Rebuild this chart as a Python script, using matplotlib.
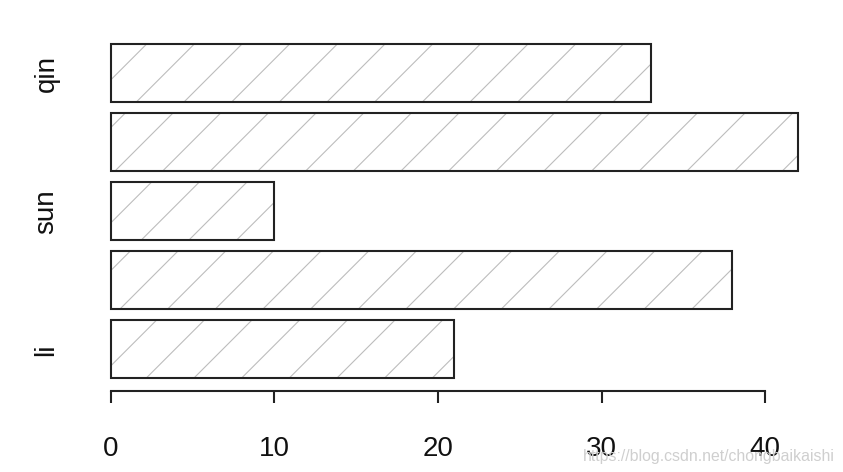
import matplotlib
matplotlib.use("Agg")
import matplotlib.pyplot as plt

# data (bottom to top)
values = [21, 38, 10, 42, 33]
labels = ["li", "", "sun", "", "qin"]
x_ticks = [0, 10, 20, 30, 40]

plt.rcParams["font.family"] = ["Liberation Sans", "DejaVu Sans"]
plt.rcParams["hatch.linewidth"] = 0.56

# dpi chosen so the "/" hatch spacing matches R's density lines
DPI = 143
fig = plt.figure(figsize=(843 / DPI, 473 / DPI), dpi=DPI)
ax = fig.add_axes([0.099, 0.171, 0.88, 0.762])

# R barplot layout: width 1, space 0.2
pos = [0.7 + 1.2 * i for i in range(len(values))]
# hatch fill in light gray, then the dark outline on top
ax.barh(pos, values, height=1.0, color="white", edgecolor="#bdbdbd",
        linewidth=0, hatch="/")
ax.barh(pos, values, height=1.0, color="none", edgecolor="#222222",
        linewidth=1.05)

ax.set_xlim(-0.04 * max(values), max(values) * 1.04)
ax.set_ylim(0.2 - 0.232, 6.0 + 0.232)

for s in ["top", "right", "left"]:
    ax.spines[s].set_visible(False)
ax.spines["bottom"].set_bounds(0, 40)
ax.spines["bottom"].set_linewidth(1.05)
ax.spines["bottom"].set_color("#222222")

ax.set_xticks(x_ticks)
ax.set_xticklabels([str(t) for t in x_ticks])
ax.tick_params(axis="x", length=6, width=1.05, color="#222222",
               labelsize=14, pad=16, labelcolor="#111111")

ax.set_yticks(pos)
ax.set_yticklabels(labels, rotation=90, va="center")
ax.tick_params(axis="y", length=0, labelsize=14, pad=12, labelcolor="#111111")

fig.text(0.99, 0.035, "https://blog.csdn.net/chongbaikaishi", ha="right",
         va="center", fontsize=8, color="#cfcfcf")

fig.savefig("out.png", dpi=DPI)
